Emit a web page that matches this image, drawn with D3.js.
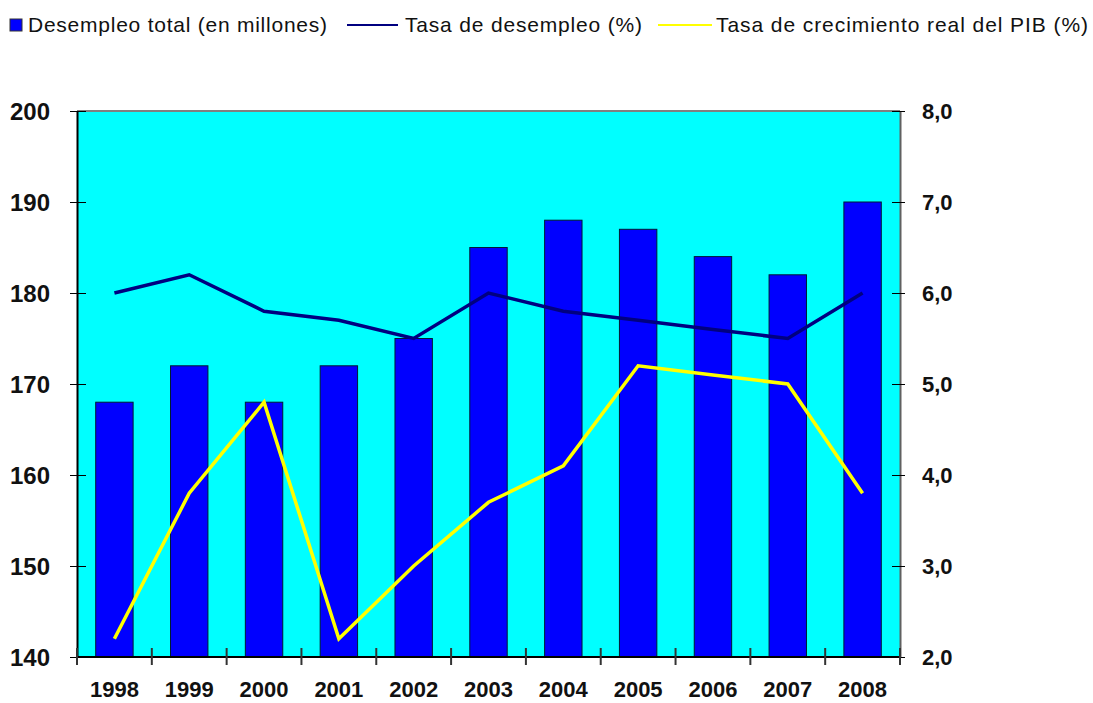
<!DOCTYPE html>
<html>
    <head>
        <title>Desempleo y crecimiento</title>
        <meta charset="utf-8">
        <script src="https://d3js.org/d3.v7.min.js"></script>
        <style>
            body { margin: 0; background: #fff; }
            text { font-family: Arial, "Liberation Sans", sans-serif; fill: #111; }
        </style>
    </head>
    <body>
        <div id="container"></div>
        <script>
            // Data
            const years = ["1998", "1999", "2000", "2001", "2002", "2003", "2004", "2005", "2006", "2007", "2008"]
            const desempleoTotal = [168, 172, 168, 172, 175, 185, 188, 187, 184, 182, 190]
            const tasaDesempleo = [6.0, 6.2, 5.8, 5.7, 5.5, 6.0, 5.8, 5.7, 5.6, 5.5, 6.0]
            const tasaPib = [2.2, 3.8, 4.8, 2.2, 3.0, 3.7, 4.1, 5.2, 5.1, 5.0, 3.8]
            const leftTicks = [140, 150, 160, 170, 180, 190, 200]
            const rightTicks = [2, 3, 4, 5, 6, 7, 8]

            // Variables
            const w = 1093
            const h = 703
            const plotLeft = 77
            const plotRight = 900
            const plotTop = 111
            const plotBottom = 657

            const svg = d3.select("#container")
                .append("svg")
                .attr("width", w)
                .attr("height", h)

            // Scales
            const xScale = d3.scaleBand()
                .domain(years)
                .range([plotLeft, plotRight])
                .paddingInner(0.5)
                .paddingOuter(0.25)

            const yLeft = d3.scaleLinear()
                .domain([140, 200])
                .range([plotBottom, plotTop])

            const yRight = d3.scaleLinear()
                .domain([2, 8])
                .range([plotBottom, plotTop])

            const center = d => xScale(d) + xScale.bandwidth() / 2

            // Plot area
            svg.append("rect")
                .attr("x", plotLeft)
                .attr("y", plotTop)
                .attr("width", plotRight - plotLeft)
                .attr("height", plotBottom - plotTop)
                .attr("fill", "#00ffff")
            svg.append("line")
                .attr("x1", plotLeft).attr("x2", plotRight)
                .attr("y1", plotTop).attr("y2", plotTop)
                .attr("stroke", "#808080")
                .attr("stroke-width", 2)

            // Bars
            svg.selectAll(".bar")
                .data(years)
                .enter()
                .append("rect")
                .attr("class", "bar")
                .attr("x", d => xScale(d))
                .attr("y", (d, i) => yLeft(desempleoTotal[i]))
                .attr("width", xScale.bandwidth())
                .attr("height", (d, i) => plotBottom - yLeft(desempleoTotal[i]))
                .attr("fill", "#0000ff")
                .attr("stroke", "#001a33")
                .attr("stroke-width", 1)

            // Lines
            const lineRight = d3.line()
                .x((d, i) => center(years[i]))
                .y(d => yRight(d))

            svg.append("path")
                .datum(tasaDesempleo)
                .attr("d", lineRight)
                .attr("fill", "none")
                .attr("stroke", "#000080")
                .attr("stroke-width", 3.5)

            svg.append("path")
                .datum(tasaPib)
                .attr("d", lineRight)
                .attr("fill", "none")
                .attr("stroke", "#ffff00")
                .attr("stroke-width", 3.5)

            // Axis
            const yAxisLeft = d3.axisLeft(yLeft)
                .tickValues(leftTicks)
                .tickSizeInner(7)
                .tickSizeOuter(0)
                .tickPadding(18)
            const gLeft = svg.append("g")
                .attr("transform", "translate(" + plotLeft + ",0)")
                .call(yAxisLeft)
            gLeft.select(".domain").attr("stroke", "#000").attr("stroke-width", 2)
            gLeft.selectAll(".tick line").attr("x2", -7).attr("x1", 9).attr("stroke", "#000")
            gLeft.selectAll(".tick text")
                .style("font-size", "24px")
                .style("font-weight", "600")
                .attr("dx", "-2")
                .attr("dy", "0.36em")

            const yAxisRight = d3.axisRight(yRight)
                .tickValues(rightTicks)
                .tickFormat(d => d3.format(".1f")(d).replace(".", ","))
                .tickSizeInner(5)
                .tickSizeOuter(0)
                .tickPadding(17)
            const gRight = svg.append("g")
                .attr("transform", "translate(" + plotRight + ",0)")
                .call(yAxisRight)
            gRight.select(".domain").attr("stroke", "#606060").attr("stroke-width", 2)
            gRight.selectAll(".tick line").attr("x1", -8).attr("x2", 5).attr("stroke", "#000")
            gRight.selectAll(".tick text")
                .style("font-size", "22px")
                .style("font-weight", "bold")
                .attr("dy", "0.36em")

            // Bottom axis, ticks between categories
            svg.append("line")
                .attr("x1", plotLeft).attr("x2", plotRight)
                .attr("y1", plotBottom).attr("y2", plotBottom)
                .attr("stroke", "#000")
                .attr("stroke-width", 2)
            const boundaries = years.map(d => xScale(d) - xScale.step() * 0.25).concat([plotRight])
            svg.selectAll(".xtick")
                .data(boundaries)
                .enter()
                .append("line")
                .attr("class", "xtick")
                .attr("x1", d => d).attr("x2", d => d)
                .attr("y1", plotBottom - 9).attr("y2", plotBottom + 8)
                .attr("stroke", "#333")
                .attr("stroke-width", 2)
            svg.selectAll(".xlabel")
                .data(years)
                .enter()
                .append("text")
                .attr("class", "xlabel")
                .attr("x", d => center(d))
                .attr("y", 697)
                .attr("text-anchor", "middle")
                .style("font-size", "22px")
                .style("font-weight", "bold")
                .text(d => d)

            // Legend
            const legend = svg.append("g")
            legend.append("rect")
                .attr("x", 10).attr("y", 19)
                .attr("width", 12).attr("height", 12)
                .attr("fill", "#0000ff")
                .attr("stroke", "#333")
                .attr("stroke-width", 1)
            legend.append("text")
                .attr("x", 28).attr("y", 32)
                .attr("textLength", 299)
                .style("font-size", "21px")
                .text("Desempleo total (en millones)")
            legend.append("line")
                .attr("x1", 347).attr("x2", 398)
                .attr("y1", 25).attr("y2", 25)
                .attr("stroke", "#000080")
                .attr("stroke-width", 2)
            legend.append("text")
                .attr("x", 405).attr("y", 32)
                .attr("textLength", 237)
                .style("font-size", "21px")
                .text("Tasa de desempleo (%)")
            legend.append("line")
                .attr("x1", 658).attr("x2", 712)
                .attr("y1", 25).attr("y2", 25)
                .attr("stroke", "#ffff00")
                .attr("stroke-width", 2)
            legend.append("text")
                .attr("x", 716).attr("y", 32)
                .attr("textLength", 372)
                .style("font-size", "21px")
                .text("Tasa de crecimiento real del PIB (%)")
        </script>
    </body>
</html>
